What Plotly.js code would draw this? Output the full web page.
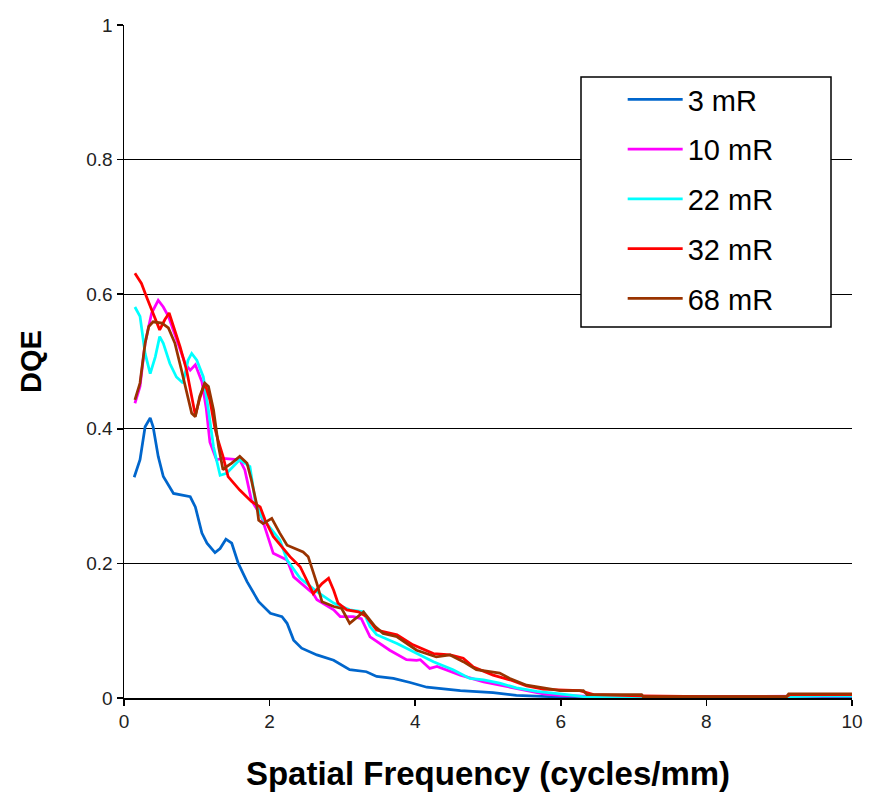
<!DOCTYPE html>
<html>
<head>
<meta charset="utf-8">
<script src="https://cdn.plot.ly/plotly-3.0.1.min.js"></script>
<style>
html,body{margin:0;padding:0;background:#fff;}
#chart{width:869px;height:799px;}
</style>
</head>
<body>
<div id="chart"></div>
<script>
// Series names
const seriesNames = ["3 mR", "10 mR", "22 mR", "32 mR", "68 mR"];
const seriesColors = ["#0066CC", "#FF00FF", "#00FFFF", "#FF0000", "#993300"];

// 3 mR
const x3 = [0.14,0.22,0.29,0.36,0.40,0.47,0.54,0.68,0.91,0.98,1.07,1.14,1.25,1.32,1.40,1.48,1.57,1.69,1.85,2.01,2.17,2.24,2.33,2.44,2.65,2.88,3.10,3.33,3.47,3.70,3.93,4.16,4.62,5.07,5.39,6.08,7.0,8.0,9.1,9.6,10];
const y3 = [0.328,0.354,0.403,0.416,0.403,0.359,0.329,0.304,0.299,0.284,0.245,0.230,0.216,0.222,0.236,0.230,0.200,0.173,0.143,0.126,0.121,0.111,0.086,0.074,0.064,0.056,0.042,0.039,0.032,0.029,0.023,0.016,0.011,0.008,0.004,0.001,0.001,0.001,0.001,0.002,0.002];

// 10 mR
const x10 = [0.15,0.22,0.29,0.38,0.47,0.54,0.61,0.72,0.84,0.91,0.98,1.07,1.13,1.18,1.27,1.36,1.47,1.59,1.66,1.75,1.89,1.98,2.05,2.24,2.33,2.60,2.65,2.88,2.97,3.15,3.26,3.38,3.65,3.88,4.02,4.07,4.20,4.30,4.62,4.94,5.16,5.76,5.99,6.5,7.2,8,9.1,10];
const y10 = [0.438,0.463,0.527,0.572,0.591,0.581,0.567,0.532,0.497,0.487,0.495,0.470,0.430,0.380,0.354,0.356,0.355,0.354,0.339,0.294,0.269,0.240,0.215,0.205,0.180,0.155,0.146,0.131,0.121,0.121,0.118,0.091,0.071,0.057,0.056,0.057,0.044,0.047,0.034,0.024,0.019,0.006,0.004,0.002,0.002,0.002,0.003,0.003];

// 22 mR
const x22 = [0.15,0.22,0.29,0.36,0.43,0.49,0.54,0.63,0.72,0.81,0.88,0.93,1.0,1.09,1.16,1.23,1.32,1.41,1.59,1.73,1.80,1.89,2.0,2.14,2.24,2.42,2.65,2.88,3.10,3.29,3.38,3.47,3.75,4.02,4.25,4.52,4.75,4.94,5.16,5.39,5.67,6.08,6.31,7.2,8,9.1,9.6,10];
const y22 = [0.581,0.567,0.512,0.482,0.507,0.537,0.527,0.497,0.477,0.468,0.502,0.512,0.502,0.477,0.428,0.373,0.331,0.334,0.354,0.344,0.294,0.269,0.254,0.235,0.205,0.178,0.158,0.141,0.131,0.128,0.106,0.094,0.081,0.066,0.054,0.042,0.029,0.027,0.022,0.015,0.010,0.005,0.002,0.001,0.001,0.002,0.003,0.003];

// 32 mR
const x32 = [0.15,0.24,0.31,0.40,0.49,0.56,0.62,0.68,0.77,0.86,0.93,0.98,1.04,1.11,1.18,1.25,1.30,1.36,1.43,1.59,1.75,1.87,1.94,2.05,2.28,2.42,2.60,2.72,2.81,2.88,2.94,3.06,3.22,3.33,3.47,3.75,3.97,4.25,4.48,4.66,4.80,5.07,5.30,5.53,5.76,6.26,6.45,7.1,8,9.1,9.15,10];
const y32 = [0.631,0.616,0.596,0.572,0.547,0.562,0.572,0.552,0.522,0.487,0.450,0.420,0.445,0.468,0.443,0.400,0.380,0.359,0.329,0.309,0.292,0.284,0.264,0.240,0.210,0.195,0.155,0.170,0.178,0.160,0.141,0.131,0.128,0.121,0.101,0.094,0.079,0.066,0.064,0.059,0.046,0.034,0.027,0.018,0.013,0.011,0.005,0.003,0.002,0.002,0.005,0.005];

// 68 mR
const x68 = [0.15,0.22,0.29,0.34,0.40,0.52,0.61,0.70,0.79,0.86,0.93,0.98,1.04,1.11,1.16,1.23,1.30,1.36,1.41,1.48,1.59,1.69,1.75,1.82,1.85,1.91,2.03,2.14,2.24,2.46,2.53,2.65,2.72,2.88,2.99,3.10,3.29,3.45,3.56,3.75,4.02,4.29,4.48,4.66,4.84,5.16,5.30,5.53,5.85,5.99,6.31,6.36,7.11,7.13,9.10,9.13,10];
const y68 = [0.443,0.468,0.527,0.552,0.559,0.557,0.550,0.527,0.487,0.453,0.423,0.418,0.448,0.468,0.463,0.428,0.373,0.339,0.344,0.349,0.359,0.349,0.324,0.289,0.264,0.259,0.267,0.245,0.227,0.217,0.210,0.170,0.143,0.136,0.133,0.111,0.128,0.106,0.096,0.091,0.071,0.061,0.064,0.054,0.042,0.037,0.029,0.019,0.014,0.011,0.011,0.005,0.005,0.002,0.002,0.006,0.006];

// Axis ticks
const xTicks = [0, 2, 4, 6, 8, 10];
const yTicks = [0, 0.2, 0.4, 0.6, 0.8, 1];
const yTickText = ["0", "0.2", "0.4", "0.6", "0.8", "1"];

const xs = [x3, x10, x22, x32, x68];
const ys = [y3, y10, y22, y32, y68];

const FONT = "Arial, 'Liberation Sans', sans-serif";

const traces = seriesNames.map((n, i) => ({
  type: "scatter",
  mode: "lines",
  name: n,
  x: xs[i],
  y: ys[i],
  legendgroup: "g" + i,
  line: {color: seriesColors[i], width: 2.75},
  hoverinfo: "skip"
}));

const layout = {
  width: 869,
  height: 799,
  margin: {l: 124, r: 17, t: 25, b: 101},
  paper_bgcolor: "#ffffff",
  plot_bgcolor: "#ffffff",
  showlegend: true,
  legend: {
    x: 0.685, y: 0.927, xanchor: "left", yanchor: "top",
    bgcolor: "rgba(0,0,0,0)",
    borderwidth: 0,
    font: {family: FONT, size: 29, color: "#000"},
    tracegroupgap: 9,
    itemwidth: 55
  },
  xaxis: {
    range: [0, 10],
    tickvals: xTicks,
    ticktext: xTicks.map(String),
    ticks: "outside", ticklen: 6, tickwidth: 1.5, tickcolor: "#000",
    showline: true, linecolor: "#000", linewidth: 1.5,
    showgrid: false, zeroline: false,
    tickfont: {family: FONT, size: 19, color: "#222"},
    title: {text: "<b>Spatial Frequency (cycles/mm)</b>", font: {family: FONT, size: 33, color: "#000"}, standoff: 30}
  },
  yaxis: {
    range: [0, 1],
    tickvals: yTicks,
    ticktext: yTickText,
    ticks: "outside", ticklen: 6, tickwidth: 1.5, tickcolor: "#000",
    showline: true, linecolor: "#000", linewidth: 1.5,
    showgrid: true, gridcolor: "#000", gridwidth: 1,
    zeroline: false,
    tickfont: {family: FONT, size: 19, color: "#222"},
    title: {text: "<b>DQE</b>", font: {family: FONT, size: 29, color: "#000"}, standoff: 36}
  },
  shapes: [{
    type: "rect", xref: "paper", yref: "paper",
    x0: (581 - 124) / 728, x1: (831 - 124) / 728,
    y0: (698 - 327) / 673, y1: (698 - 77) / 673,
    line: {color: "#000", width: 1.5},
    fillcolor: "#ffffff",
    layer: "above"
  }]
};

Plotly.newPlot("chart", traces, layout, {displayModeBar: false, staticPlot: true});
</script>
</body>
</html>
